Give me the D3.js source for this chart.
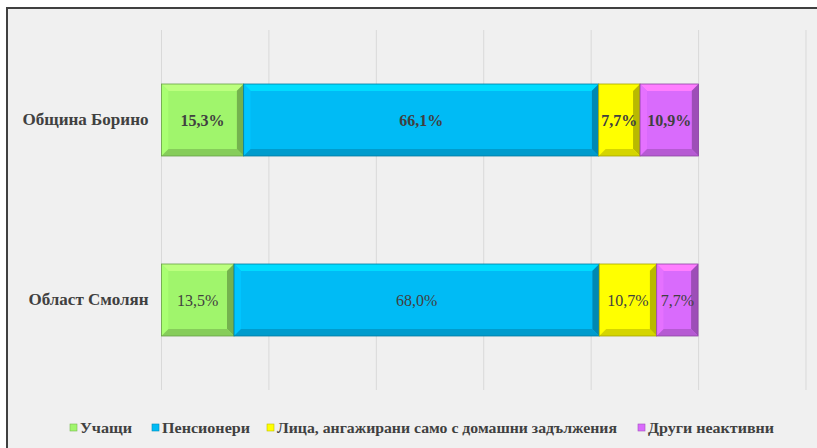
<!DOCTYPE html>
<html>
<head>
<meta charset="utf-8">
<script src="https://cdn.jsdelivr.net/npm/d3@7"></script>
<style>
  body { margin: 0; background: #fff; }
  svg text { font-family: "Liberation Serif", "Times New Roman", "DejaVu Serif", serif; fill: #404040; }
</style>
</head>
<body>
<div id="chart"></div>
<script>
var categories = ["Община Борино", "Област Смолян"]
var series = ["Учащи", "Пенсионери", "Лица, ангажирани само с домашни задължения", "Други неактивни"]
var colors = ["#a0f56c", "#00bbf5", "#ffff00", "#d96bfc"]
var values = [
  [15.3, 66.1, 7.7, 10.9],
  [13.5, 68.0, 10.7, 7.7]
]
var labelWeights = ["bold", "normal"]
var ticks = [0, 20, 40, 60, 80, 100, 120]

var width = 817, height = 448
var margin = {left: 161.5, right: 10, top: 30, bottom: 58}

var svg = d3.select("#chart").append("svg")
  .attr("width", width)
  .attr("height", height)
  .style("font-family", "'Liberation Serif', 'Times New Roman', serif")

// frame
svg.append("rect").attr("x", 7).attr("y", 8).attr("width", width).attr("height", height)
  .attr("fill", "#f0f0f0").attr("stroke", "#404040").attr("stroke-width", 2)

var x = d3.scaleLinear().domain([0, 120]).range([margin.left, 806])
var y = d3.scaleBand().domain(categories).range([margin.top, height - margin.bottom]).paddingInner(0.6).paddingOuter(0.3)

// grid
svg.append("g").selectAll("line").data(ticks).enter().append("line")
  .attr("x1", function(d){return x(d)}).attr("x2", function(d){return x(d)})
  .attr("y1", margin.top).attr("y2", height - margin.bottom)
  .attr("stroke", "#d9d9d9").attr("stroke-width", 1)

// category labels
var catW = [126, 120]
svg.append("g").selectAll("text").data(categories).enter().append("text")
  .attr("x", margin.left - 13)
  .attr("y", function(d){return y(d) + y.bandwidth()/2 + 5})
  .attr("text-anchor", "end")
  .attr("font-size", 16).attr("font-weight", "bold")
  .attr("textLength", function(d, i){return catW[i]})
  .attr("lengthAdjust", "spacingAndGlyphs")
  .text(function(d){return d})

function shade(c, k){ return k > 0 ? d3.color(c).brighter(k).formatHex() : d3.color(c).darker(-k).formatHex() }

var bev = 7
var segs = []
values.forEach(function(row, i){
  var acc = 0
  row.forEach(function(v, j){
    segs.push({cat: categories[i], row: i, s: j, x0: acc, x1: acc + v, v: v})
    acc += v
  })
})

var g = svg.append("g").selectAll("g").data(segs).enter().append("g")
g.each(function(d){
  var el = d3.select(this)
  var x0 = x(d.x0), x1 = x(d.x1), y0 = y(d.cat), y1 = y0 + y.bandwidth()
  var c = colors[d.s]
  el.append("rect").attr("x", x0).attr("y", y0).attr("width", x1 - x0).attr("height", y1 - y0).attr("fill", c)
  var b = Math.min(bev, (x1 - x0)/2)
  el.append("polygon").attr("points", [[x0,y0],[x1,y0],[x1-b,y0+b],[x0+b,y0+b]].join(" ")).attr("fill", shade(c, 0.45))
  el.append("polygon").attr("points", [[x0,y0],[x0+b,y0+b],[x0+b,y1-b],[x0,y1]].join(" ")).attr("fill", shade(c, 0.15))
  el.append("polygon").attr("points", [[x1,y0],[x1,y1],[x1-b,y1-b],[x1-b,y0+b]].join(" ")).attr("fill", shade(c, -0.9))
  el.append("polygon").attr("points", [[x0,y1],[x0+b,y1-b],[x1-b,y1-b],[x1,y1]].join(" ")).attr("fill", shade(c, -0.5))
  el.append("rect").attr("x", x0 + b).attr("y", y0 + b).attr("width", Math.max(0, x1 - x0 - 2*b)).attr("height", y1 - y0 - 2*b).attr("fill", c)
  el.append("rect").attr("x", x0).attr("y", y0).attr("width", x1 - x0).attr("height", y1 - y0)
    .attr("fill", "none").attr("stroke", shade(c, -1.2)).attr("stroke-width", 0.8)
  el.append("text")
    .attr("x", (x0 + x1)/2).attr("y", (y0 + y1)/2 + 5.5)
    .attr("text-anchor", "middle")
    .attr("font-size", 16).attr("font-weight", labelWeights[d.row])
    .text(d3.format(".1f")(d.v).replace(".", ",") + "%")
})

// legend
var legX = [70, 152, 267, 638]
var legW = [52, 88, 340, 126]
var leg = svg.append("g").selectAll("g").data(series).enter().append("g")
  .attr("transform", function(d, i){return "translate(" + legX[i] + ",424)"})
leg.append("rect").attr("width", 7).attr("height", 7).attr("fill", function(d, i){return colors[i]})
  .attr("stroke", function(d, i){return shade(colors[i], -0.8)}).attr("stroke-width", 0.6)
leg.append("text").attr("x", 10).attr("y", 9).attr("font-size", 14).attr("font-weight", "bold")
  .attr("textLength", function(d, i){return legW[i]})
  .attr("lengthAdjust", "spacingAndGlyphs")
  .text(function(d){return d})
</script>
</body>
</html>
